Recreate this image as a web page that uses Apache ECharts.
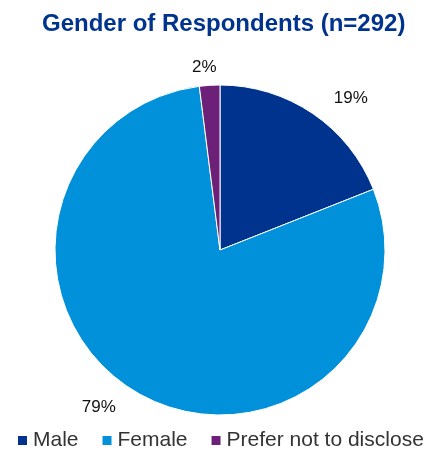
<!DOCTYPE html>
<html>
<head>
<meta charset="utf-8">
<script src="https://cdn.jsdelivr.net/npm/echarts@6/dist/echarts.min.js"></script>
<style>
  html, body { margin: 0; padding: 0; background: #fff; }
  #chart { width: 427px; height: 450px; }
</style>
</head>
<body>
<div id="chart"></div>
<script>
// data
const categories = ['Male', 'Female', 'Prefer not to disclose'];
const shares = [19, 79, 2];
const colors = ['#00338D', '#0091DA', '#6D2077'];

const pieData = categories.map((name, i) => ({
  name: name,
  value: shares[i],
  itemStyle: { color: colors[i] },
  labelLine: { length: 18, length2: i === 2 ? 0 : 6 }
}));

const chart = echarts.init(document.getElementById('chart'));

const option = {
  animation: false,
  title: {
    text: 'Gender of Respondents (n=292)',
    left: 37,
    top: 7,
    textStyle: {
      fontFamily: 'Liberation Sans, Arial, sans-serif',
      fontSize: 24,
      fontWeight: 'bold',
      color: '#00338D'
    }
  },
  legend: {
    data: categories,
    top: 430,
    left: 16,
    padding: 0,
    icon: 'rect',
    itemWidth: 11,
    itemHeight: 11,
    itemGap: 22,
    textStyle: {
      fontFamily: 'Liberation Sans, Arial, sans-serif',
      fontSize: 21,
      color: '#333'
    }
  },
  series: [{
    type: 'pie',
    center: [220, 250],
    radius: 165,
    startAngle: 90,
    clockwise: true,
    data: pieData,
    itemStyle: { borderColor: '#fff', borderWidth: 1 },
    label: {
      show: true,
      position: 'outside',
      formatter: '{c}%',
      fontFamily: 'Liberation Sans, Arial, sans-serif',
      fontSize: 17,
      color: '#111'
    },
    labelLine: { show: false },
    // the small slice's label sits centred above the slice
    labelLayout: function (params) {
      return params.dataIndex === 2 ? { dx: 13 } : {};
    },
    emphasis: { disabled: true }
  }]
};

chart.setOption(option);
</script>
</body>
</html>
